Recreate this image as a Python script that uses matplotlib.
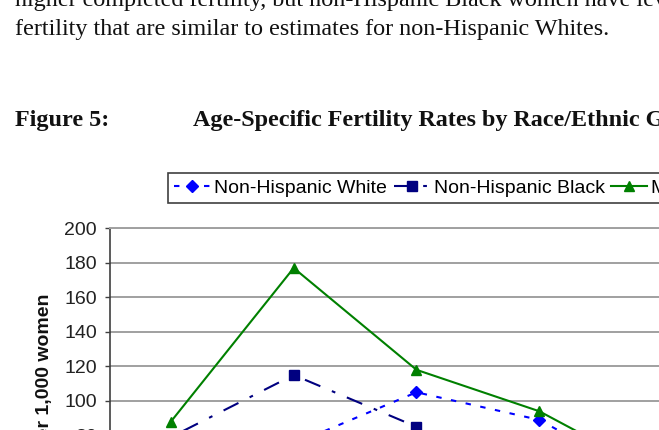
"""
Figure 5 page excerpt: age-specific fertility rates by race/ethnic group
"""

import matplotlib
matplotlib.use('Agg')
import matplotlib.pyplot as plt

# ---------------------------------------------------------------
# Data (births per 1,000 women)
# ---------------------------------------------------------------
age_groups = ['15-19', '20-24', '25-29', '30-34', '35-39', '40-44']
nh_white = [28, 75, 105, 89, 50, 10]
nh_black = [79, 115, 85, 57, 28, 7]
mexican = [88, 177, 118, 94, 56, 14]
y_ticks = [0, 20, 40, 60, 80, 100, 120, 140, 160, 180, 200]

body_lines = [
    'higher completed fertility, but non-Hispanic Black women have levels of',
    'fertility that are similar to estimates for non-Hispanic Whites.',
]
fig_label = 'Figure 5:'
fig_title = 'Age-Specific Fertility Rates by Race/Ethnic Group'

W, H = 659, 430
fig = plt.figure(figsize=(W / 100, H / 100), dpi=100, facecolor='white')

serif = 'Liberation Serif'
sans = 'Liberation Sans'

# document text above the chart
fig.text(15 / W, 1 - 6 / H, body_lines[0], family=serif, fontsize=17.4,
         ha='left', va='baseline', color='#111111')
fig.text(15 / W, 1 - 35 / H, body_lines[1], family=serif, fontsize=17.4,
         ha='left', va='baseline', color='#111111')
fig.text(15 / W, 1 - 126 / H, fig_label, family=serif, fontsize=17.4,
         fontweight='bold', ha='left', va='baseline', color='#111111')
fig.text(193 / W, 1 - 126 / H, fig_title, family=serif, fontsize=17.4,
         fontweight='bold', ha='left', va='baseline', color='#111111')

# plot area: left edge at 109 px, 200 at 228 px, 0 at 573 px
left, top, bottom = 109.5, 228.3, 573.5
width = 6 * 122.8
ax = fig.add_axes([left / W, 1 - bottom / H, width / W, (bottom - top) / H])

x = list(range(len(age_groups)))
ax.plot(x, nh_white, color='#0000FF', linewidth=1.5, dashes=(2.6, 4.6),
        marker='D', markersize=6.5, markeredgecolor='#0000FF',
        markerfacecolor='#0000FF', label='Non-Hispanic White')
ax.plot(x, nh_black, color='#000080', linewidth=1.5, dashes=(8, 6, 1.8, 6),
        marker='s', markersize=7, markeredgecolor='#000080',
        markerfacecolor='#000080', label='Non-Hispanic Black')
ax.plot(x, mexican, color='#008000', linewidth=1.5, linestyle='-',
        marker='^', markersize=7.5, markeredgecolor='#008000',
        markerfacecolor='#008000', label='Mexican American')

ax.set_xlim(-0.5, len(age_groups) - 0.5)
ax.set_ylim(0, 200)
ax.set_yticks(y_ticks)
ax.set_xticks(x)
ax.set_xticklabels(age_groups, family=sans, fontsize=14)
ax.tick_params(axis='y', direction='out', length=3.6, width=1.0,
               color='#404040', pad=5.5, labelsize=14, labelcolor='#222222')
for lab in ax.get_yticklabels():
    lab.set_family(sans)

ax.grid(True, axis='y', color='#A0A0A0', linewidth=1.4)
ax.set_axisbelow(True)
ax.spines['right'].set_visible(False)
ax.spines['top'].set_color('#A0A0A0')
ax.spines['top'].set_linewidth(1.4)
ax.spines['left'].set_color('#404040')
ax.spines['left'].set_linewidth(1.2)
ax.spines['bottom'].set_color('#404040')

# y label, its upper end sits at ~293 px
fig.text(44.5 / W, 1 - 293 / H, 'Births per 1,000 women', family=sans,
         fontsize=14, fontweight='bold', rotation=90, ha='center', va='top',
         color='#111111')

handles, labels = ax.get_legend_handles_labels()
leg = fig.legend(handles, labels, loc='upper left',
                 bbox_to_anchor=(168 / W, 1 - 173 / H), ncol=3,
                 prop={'family': sans, 'size': 14}, borderaxespad=0,
                 borderpad=0.32, handlelength=1.85, handletextpad=0.2,
                 columnspacing=0.35, numpoints=1, fancybox=False,
                 framealpha=1, edgecolor='#404040')
leg.get_frame().set_linewidth(1.2)

plt.savefig('out.png', dpi=100, facecolor='white')
